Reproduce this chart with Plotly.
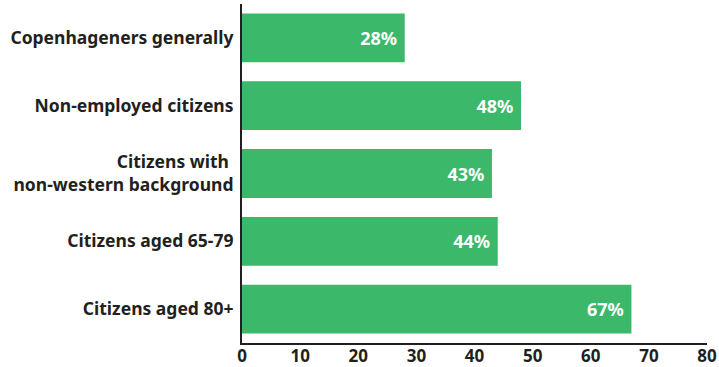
import plotly.graph_objects as go

groups = [
    "Copenhageners generally",
    "Non-employed citizens",
    "Citizens with <br>non-western background",
    "Citizens aged 65-79",
    "Citizens aged 80+",
]
shares = [28, 48, 43, 44, 67]
share_labels = [f"{v}% " for v in shares]
x_ticks = [0, 10, 20, 30, 40, 50, 60, 70, 80]

FONT = "Noto Sans"

fig = go.Figure(go.Bar(
    x=shares,
    y=groups,
    orientation="h",
    marker=dict(color="#3BB86A", line=dict(width=0)),
    text=share_labels,
    textposition="inside",
    insidetextanchor="end",
    textfont=dict(family=FONT, size=18, color="white", weight="bold"),
    cliponaxis=False,
))

fig.update_layout(
    width=719,
    height=367,
    template="plotly_white",
    showlegend=False,
    bargap=0.28,
    margin=dict(l=242, r=12, t=4, b=24),
    paper_bgcolor="white",
    plot_bgcolor="white",
    font=dict(family=FONT, color="#231F20"),
    uniformtext=dict(mode="show", minsize=10),
)
fig.update_xaxes(
    range=[0, 80],
    tickvals=x_ticks,
    showgrid=False,
    zeroline=False,
    showline=True,
    linecolor="#231F20",
    linewidth=2,
    ticks="",
    automargin=False,
    ticklabelstandoff=-3,
    tickfont=dict(family=FONT, size=17, color="#231F20", weight="bold"),
)
fig.update_yaxes(
    autorange="reversed",
    showgrid=False,
    showline=True,
    linecolor="#231F20",
    linewidth=2,
    ticks="",
    automargin=False,
    ticklabelstandoff=3,
    tickfont=dict(family=FONT, size=17.5, color="#231F20", weight="bold"),
)

# the page's default body margin would shift the chart; remove it
fig.write_html(
    "out.html",
    config={"displayModeBar": False},
    post_script="document.body.style.margin='0px';",
)
